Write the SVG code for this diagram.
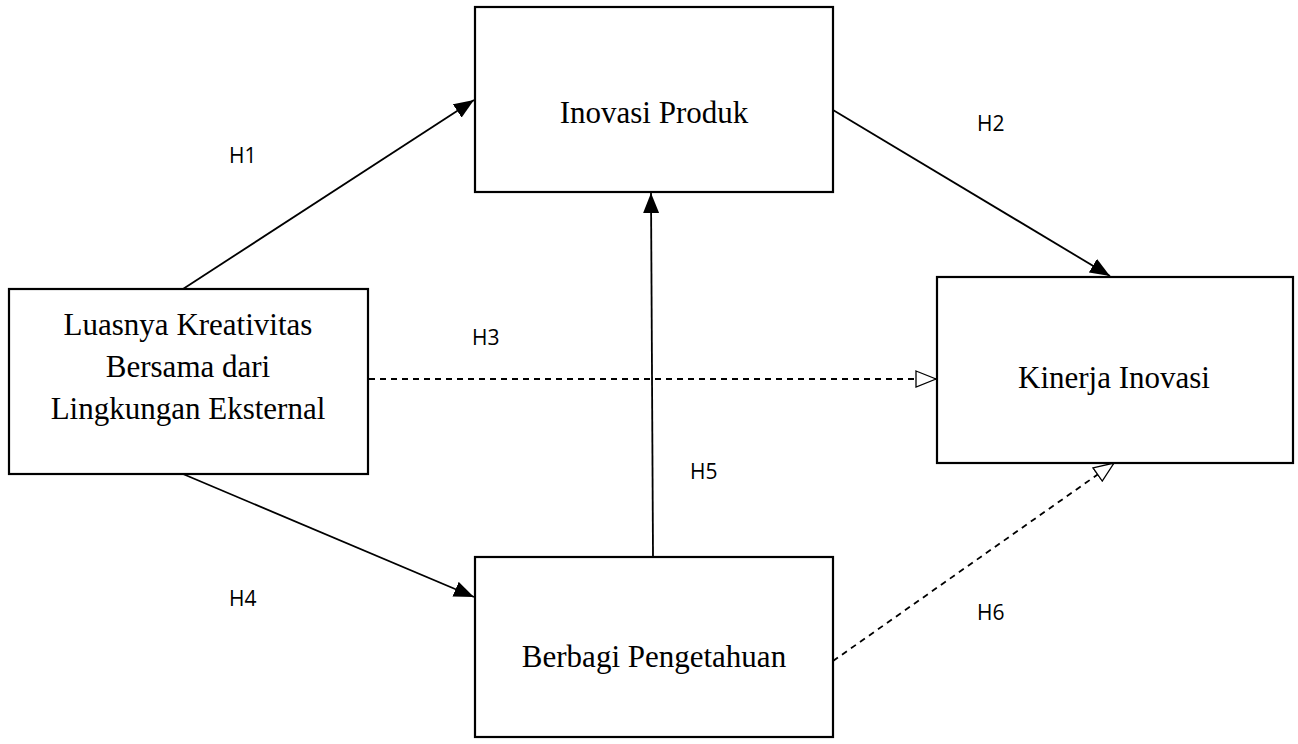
<svg xmlns="http://www.w3.org/2000/svg" width="1298" height="744" viewBox="0 0 1298 744">
<style>
.box{fill:#fff;stroke:#000;stroke-width:2.2}
.t{font-family:"Liberation Serif",serif;font-size:31px;fill:#000;text-anchor:middle}
.lbl{font-family:"Open Sans","Liberation Sans",sans-serif;font-size:21px;fill:#000}
.c{stroke:#000;stroke-width:1.8;fill:none}
.d{stroke-dasharray:6,5}
</style>
<defs>
<marker id="fa" viewBox="0 0 20 16" refX="20" refY="8" markerWidth="20" markerHeight="16" markerUnits="userSpaceOnUse" orient="auto">
<path d="M0,0 L20,8 L0,16 Z" fill="#000"/>
</marker>
<marker id="oa" viewBox="0 0 22 18" refX="21" refY="9" markerWidth="22" markerHeight="18" markerUnits="userSpaceOnUse" orient="auto">
<path d="M1,1 L21,9 L1,17 Z" fill="#fff" stroke="#000" stroke-width="1.3"/>
</marker>
</defs>
<rect width="1298" height="744" fill="#fff"/>
<g id="connectors">
<line class="c" x1="183" y1="289" x2="474" y2="100" marker-end="url(#fa)"/>
<line class="c" x1="833" y1="110" x2="1110" y2="276" marker-end="url(#fa)"/>
<line class="c d" x1="369" y1="379" x2="936" y2="379" marker-end="url(#oa)"/>
<line class="c" x1="183" y1="474" x2="474" y2="597" marker-end="url(#fa)"/>
<line class="c" x1="653" y1="556" x2="651" y2="193" marker-end="url(#fa)"/>
<line class="c d" x1="833" y1="661" x2="1114" y2="463" marker-end="url(#oa)"/>
<text class="lbl" x="229" y="163">H1</text>
<text class="lbl" x="977" y="131">H2</text>
<text class="lbl" x="472" y="345">H3</text>
<text class="lbl" x="229" y="606">H4</text>
<text class="lbl" x="690" y="479">H5</text>
<text class="lbl" x="977" y="620">H6</text>
</g>
<g id="luasnya">
<rect class="box" x="9" y="289" width="359" height="185"/>
<text class="t" x="188" y="335">Luasnya Kreativitas</text>
<text class="t" x="188" y="377">Bersama dari</text>
<text class="t" x="188" y="419">Lingkungan Eksternal</text>
</g>
<g id="inovasi">
<rect class="box" x="475" y="7" width="358" height="185"/>
<text class="t" x="654" y="123">Inovasi Produk</text>
</g>
<g id="kinerja">
<rect class="box" x="937" y="277" width="356" height="186"/>
<text class="t" x="1114" y="388">Kinerja Inovasi</text>
</g>
<g id="berbagi">
<rect class="box" x="475" y="557" width="358" height="180"/>
<text class="t" x="654" y="667">Berbagi Pengetahuan</text>
</g>
</svg>
